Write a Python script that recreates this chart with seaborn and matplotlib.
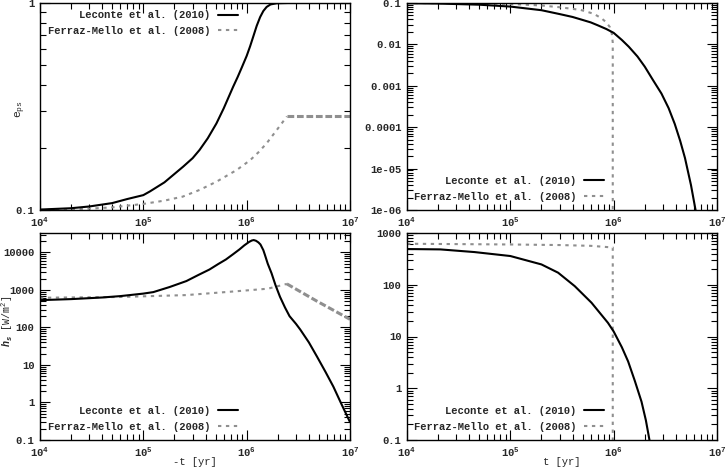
import numpy as np
import matplotlib
matplotlib.use("Agg")
import matplotlib.pyplot as plt
import matplotlib.ticker as mticker
import seaborn as sns

# ── Data ─────────────────────────────────────────────────────────────────────
LABEL_LECONTE = "Leconte et al. (2010)"
LABEL_FERRAZ = "Ferraz-Mello et al. (2008)"

# top-left: e_ps vs -t
tl_lec_t = [1e4, 2e4, 3e4, 5e4, 7e4, 1e5, 1.16e5, 1.6e5, 2.43e5, 3e5, 3.5e5, 4.2e5, 5.1e5,
            6e5, 7.4e5, 8.2e5, 9e5, 1e6, 1.08e6, 1.16e6, 1.25e6, 1.35e6, 1.45e6, 1.56e6,
            1.7e6, 1.95e6, 2.5e6, 1e7]
tl_lec_e = [0.1005, 0.102, 0.104, 0.108, 0.113, 0.118, 0.123, 0.136, 0.162, 0.178, 0.195,
            0.222, 0.262, 0.31, 0.394, 0.44, 0.49, 0.555, 0.618, 0.69, 0.775, 0.855, 0.915,
            0.957, 0.984, 0.997, 1.0, 1.0]
tl_fer_t = [1e4, 3e4, 5e4, 1e5, 1.6e5, 2.4e5, 3.5e5, 5.1e5, 8e5, 1.08e6, 1.3e6, 1.56e6,
            1.95e6, 2.45e6, 1e7]
tl_fer_e = [0.100, 0.1015, 0.103, 0.107, 0.111, 0.116, 0.125, 0.137, 0.156, 0.174, 0.19,
            0.21, 0.243, 0.283, 0.283]
tl_fer_dense = 13          # flat part drawn with the heavier gnuplot-like dashes

# top-right: e vs t
tr_lec_t = [1e4, 2e4, 5e4, 1e5, 2e5, 3e5, 4e5, 5e5, 6e5, 7e5, 8.5e5, 1e6, 1.2e6, 1.4e6,
            1.7e6, 2e6, 2.4e6, 2.9e6, 3.4e6, 3.9e6, 4.4e6, 4.9e6, 5.6e6, 6.2e6]
tr_lec_e = [0.099, 0.097, 0.091, 0.082, 0.067, 0.054, 0.046, 0.039, 0.034, 0.029, 0.0235,
            0.019, 0.0128, 0.0088, 0.0051, 0.0029, 0.00138, 6.5e-4, 2.9e-4, 1.2e-4, 4.7e-5,
            1.8e-5, 4e-6, 1e-6]
tr_fer_t = [1e4, 3e4, 1e5, 2e5, 3e5, 4.8e5, 6.4e5, 7.6e5, 8.5e5, 9.2e5, 9.6e5, 9.8e5, 9.8e5]
tr_fer_e = [0.1, 0.099, 0.095, 0.087, 0.079, 0.068, 0.055, 0.043, 0.034, 0.026, 0.018,
            0.011, 1e-8]

# bottom-left: h_s vs -t
bl_lec_t = [1e4, 2e4, 4e4, 6e4, 1e5, 1.25e5, 1.8e5, 2.61e5, 3.4e5, 4.37e5, 5.3e5, 6.3e5,
            7.4e5, 8.5e5, 9.5e5, 1.05e6, 1.12e6, 1.17e6, 1.23e6, 1.3e6, 1.36e6, 1.45e6,
            1.5e6, 1.6e6, 1.74e6, 1.9e6, 2.1e6, 2.35e6, 2.6e6, 3e6, 3.3e6, 4e6, 4.8e6,
            5.8e6, 6.9e6, 8.2e6, 1e7]
bl_lec_h = [535, 570, 630, 686, 800, 877, 1200, 1727, 2500, 3515, 4900, 6500, 9000, 12000,
            15500, 18900, 20800, 21400, 20500, 18500, 16300, 11500, 8700, 5000, 2800, 1350,
            660, 340, 200, 125, 88, 40, 16.6, 6.5, 2.65, 0.95, 0.3]
bl_fer_t = [1e4, 6e4, 2.6e5, 7.4e5, 1.6e6, 2.45e6, 4.8e6, 1e7]
bl_fer_h = [620, 650, 730, 910, 1080, 1450, 500, 165]
bl_fer_dense = 5

# bottom-right: h_s vs t
br_lec_t = [1e4, 2.1e4, 4.5e4, 1e5, 2e5, 2.9e5, 4.2e5, 6.1e5, 8.8e5, 1e6, 1.2e6, 1.38e6,
            1.6e6, 1.86e6, 2.05e6, 2.22e6]
br_lec_h = [490, 482, 428, 359, 247, 171, 94, 45, 18.4, 12.5, 6.2, 3.3, 1.4, 0.55, 0.24, 0.1]
br_fer_t = [1e4, 1e5, 3e5, 6e5, 9.8e5, 9.8e5]
br_fer_h = [620, 600, 585, 565, 525, 0.01]

# ── Style ────────────────────────────────────────────────────────────────────
sns.set_style("ticks")
plt.rcParams["font.family"] = ["Liberation Mono", "DejaVu Sans"]
plt.rcParams["font.weight"] = "bold"
plt.rcParams["mathtext.fontset"] = "custom"
plt.rcParams["mathtext.rm"] = "Liberation Mono:bold"
plt.rcParams["mathtext.it"] = "Liberation Mono:italic:bold"
plt.rcParams["mathtext.bf"] = "Liberation Mono:bold"
plt.rcParams["mathtext.default"] = "regular"

FS = 7.6
GRAY = "#8f8f8f"
DOTS = (0, (1.6, 2.2))
DENSE = (0, (2.2, 0.9))


def style_axis(ax, ylim):
    ax.set_xscale("log")
    ax.set_yscale("log")
    ax.set_xlim(1e4, 1e7)
    ax.set_ylim(*ylim)
    ax.xaxis.set_major_formatter(
        mticker.FuncFormatter(lambda v, _: f"$10^{{{int(round(np.log10(v)))}}}$"))
    ax.yaxis.set_major_formatter(mticker.FuncFormatter(lambda v, _: f"{v:g}"))
    ax.xaxis.set_minor_formatter(mticker.NullFormatter())
    ax.yaxis.set_minor_formatter(mticker.NullFormatter())
    ax.yaxis.set_minor_locator(mticker.LogLocator(base=10, subs=np.arange(2, 10), numticks=20))
    ax.tick_params(which="both", direction="in", top=True, right=True,
                   labelsize=FS, width=0.8, color="black")
    ax.tick_params(which="major", length=7, pad=4)
    ax.tick_params(which="minor", length=4)
    for s in ax.spines.values():
        s.set_linewidth(1.0)
        s.set_color("black")


def draw(ax, lec_t, lec_y, fer_t, fer_y, dense_from=None):
    if dense_from is None:
        sns.lineplot(x=fer_t, y=fer_y, ax=ax, color=GRAY, linestyle=DOTS, linewidth=1.5,
                     estimator=None, sort=False, label=LABEL_FERRAZ)
    else:
        sns.lineplot(x=fer_t[:dense_from + 1], y=fer_y[:dense_from + 1], ax=ax, color=GRAY,
                     linestyle=DOTS, linewidth=1.5, estimator=None, sort=False,
                     label=LABEL_FERRAZ)
        sns.lineplot(x=fer_t[dense_from:], y=fer_y[dense_from:], ax=ax, color=GRAY,
                     linestyle=DENSE, linewidth=2.2, estimator=None, sort=False)
    sns.lineplot(x=lec_t, y=lec_y, ax=ax, color="black", linewidth=1.5,
                 estimator=None, sort=False, label=LABEL_LECONTE)
    handles, labels = ax.get_legend_handles_labels()
    return handles[::-1], labels[::-1]


def legend(ax, handles, labels, loc, anchor):
    ax.legend(handles, labels, loc=loc, bbox_to_anchor=anchor, markerfirst=False,
              frameon=False, fontsize=FS, handlelength=1.9, handletextpad=0.7,
              labelspacing=0.55, borderpad=0, borderaxespad=0)


fig = plt.figure(figsize=(7.25, 4.67), dpi=100)
W, H = 725, 467


def axes_px(x0, y0, x1, y1):
    return fig.add_axes([x0 / W, 1 - y1 / H, (x1 - x0) / W, (y1 - y0) / H])


ax_tl = axes_px(40, 3, 350, 210)
ax_tr = axes_px(407, 3, 717, 210)
ax_bl = axes_px(40, 233, 350, 440)
ax_br = axes_px(407, 233, 717, 440)

# ── Top-left ─────────────────────────────────────────────────────────────────
h, l = draw(ax_tl, tl_lec_t, tl_lec_e, tl_fer_t, tl_fer_e, tl_fer_dense)
style_axis(ax_tl, (0.1, 1))
legend(ax_tl, h, l, "upper right", (0.638, 0.965))
ax_tl.set_ylabel(r"$e_{ps}$", fontsize=FS + 0.6)
ax_tl.yaxis.set_label_coords(-0.040, 0.49)

# ── Top-right ────────────────────────────────────────────────────────────────
h, l = draw(ax_tr, tr_lec_t, tr_lec_e, tr_fer_t, tr_fer_e)
style_axis(ax_tr, (1e-6, 0.1))
legend(ax_tr, h, l, "lower right", (0.635, 0.04))

# ── Bottom-left ──────────────────────────────────────────────────────────────
h, l = draw(ax_bl, bl_lec_t, bl_lec_h, bl_fer_t, bl_fer_h, bl_fer_dense)
style_axis(ax_bl, (0.1, 3.3e4))
legend(ax_bl, h, l, "lower right", (0.638, 0.04))
ax_bl.set_ylabel(r"$\mathit{h_s}$ [W/m$^2$]", fontsize=FS - 0.4)
ax_bl.yaxis.set_label_coords(-0.082, 0.575)
ax_bl.set_xlabel("-t [yr]", fontsize=FS, labelpad=-1)

# ── Bottom-right ─────────────────────────────────────────────────────────────
h, l = draw(ax_br, br_lec_t, br_lec_h, br_fer_t, br_fer_h)
style_axis(ax_br, (0.1, 1000))
legend(ax_br, h, l, "lower right", (0.635, 0.04))
ax_br.set_xlabel("t [yr]", fontsize=FS, labelpad=-1)

fig.savefig("out.png", dpi=100)
